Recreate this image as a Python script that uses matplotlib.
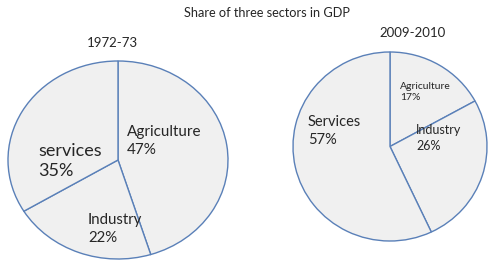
import matplotlib
matplotlib.use('Agg', force=True)
import matplotlib.pyplot as plt

plt.rcParams['font.family'] = ['Lato', 'DejaVu Sans']

# ---- data ----
title = "Share of three sectors in GDP"
years = ["1972-73", "2009-2010"]
sectors_1972 = ["Agriculture", "Industry", "services"]
values_1972 = [47, 22, 35]
sectors_2009 = ["Agriculture", "Industry", "Services"]
values_2009 = [17, 26, 57]

W, H = 489, 260
fig = plt.figure(figsize=(W / 100, H / 100), dpi=100)
fig.patch.set_facecolor('white')

def frac(x, y):
    # pixel coords (top-left origin) -> figure fraction
    return x / W, 1 - y / H

def box(x0, y0, x1, y1):
    return [x0 / W, 1 - y1 / H, (x1 - x0) / W, (y1 - y0) / H]

edge = '#5a80b8'
face = '#f0f0f0'
txt = '#262626'

def draw_pie(rect, values, start):
    ax = fig.add_axes(rect)
    ax.pie(values, startangle=start, counterclock=False,
           colors=[face] * len(values),
           wedgeprops=dict(edgecolor=edge, linewidth=1.0, clip_on=False))
    ax.set_aspect('auto')
    ax.set_xlim(-1, 1)
    ax.set_ylim(-1, 1)
    ax.axis('off')
    return ax

# ---- left pie ----
draw_pie(box(8, 61, 228, 259), values_1972, 90)
# ---- right pie ----
draw_pie(box(293, 52, 487, 241), values_2009, 90)

fig.text(*frac(267, 13), title, ha='center', va='center', fontsize=9.2, color=txt)
fig.text(*frac(112, 43), years[0], ha='center', va='center', fontsize=9.5, color=txt)
fig.text(*frac(413, 33), years[1], ha='center', va='center', fontsize=9.5, color=txt)

# labels: (x, y, fontsize) for each sector
pos_1972 = [(127, 141, 11), (88, 229, 10.8), (38, 161, 13)]
pos_2009 = [(400, 92, 7.5), (416, 138, 9), (308, 131, 10.5)]

for names, vals, pos in [(sectors_1972, values_1972, pos_1972),
                         (sectors_2009, values_2009, pos_2009)]:
    for n, v, (x, y, fs) in zip(names, vals, pos):
        fig.text(*frac(x, y), f"{n}\n{v}%", ha='left', va='center',
                 fontsize=fs, color=txt, linespacing=1.35)

fig.savefig('out.png', dpi=100)
